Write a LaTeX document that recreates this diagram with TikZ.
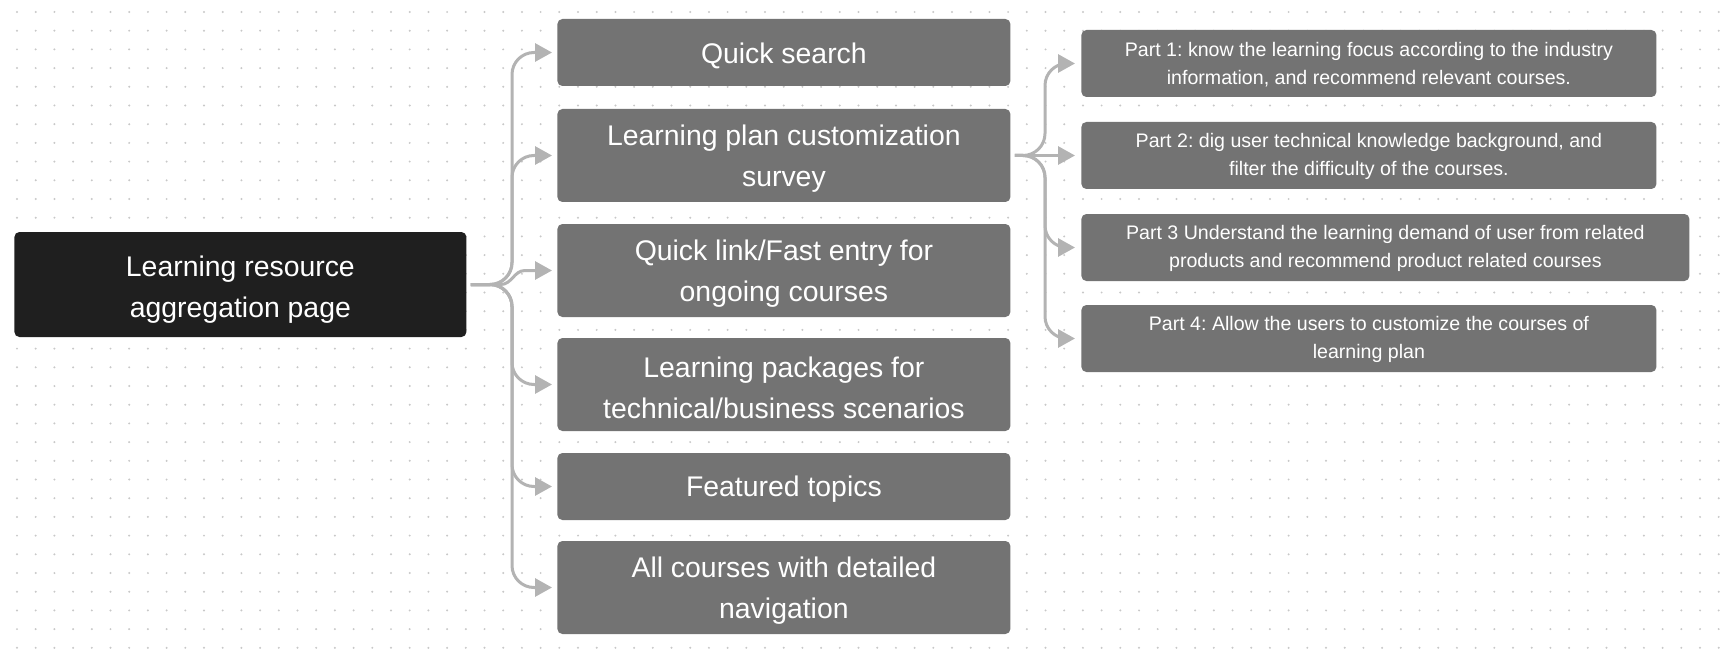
\documentclass[tikz,border=0pt]{standalone}
\usepackage{fontspec}
\setmainfont{Liberation Sans}
\usepackage{tikz}
\usetikzlibrary{arrows.meta}
\frenchspacing

\definecolor{rootgray}{HTML}{1F1F1F}
\definecolor{boxgray}{HTML}{737373}
\definecolor{linegray}{HTML}{B3B3B3}
\definecolor{dotgray}{HTML}{C8C8C8}

% invisible strut that pushes a node's text a little lower
\newcommand{\lifttext}[1]{\rule{0pt}{#1}}

\begin{document}
\begin{tikzpicture}[x=0.5pt,y=-0.5pt,
	box/.style={fill=boxgray, text=white, rounded corners=2.5pt, anchor=west, align=center, inner sep=0pt,
		font=\fontsize{14.2pt}{20.8pt}\selectfont, minimum width=226.5pt, minimum height=33.5pt},
	tall/.style={minimum height=46.5pt},
	part/.style={fill=boxgray, text=white, rounded corners=2.5pt, anchor=west, align=center, inner sep=0pt,
		font=\fontsize{9.8pt}{14.3pt}\selectfont, minimum width=287.5pt, minimum height=33.5pt},
	conn/.style={draw=linegray, line width=1.5pt, rounded corners=11pt,
		-{Triangle[length=8.5pt,width=9pt]}, shorten <=2pt, shorten >=2.5pt}
	]
\useasboundingbox (0,0) rectangle (1720,658);
\fill[white] (0,0) rectangle (1720,658);
% dotted canvas
\foreach \j in {0,...,34}{
	\foreach \i in {0,...,91}{\fill[dotgray] (17+18.7*\i,12+18.7*\j) circle (0.55pt);}}

\node[box, fill=rootgray, minimum width=226pt, minimum height=52.5pt] (root) at (14,284.5) {\lifttext{15.4pt}Learning resource\\aggregation page};

\node[box] (search) at (557,52.5) {\lifttext{13.2pt}Quick search};
\node[box, tall] (plan) at (557,155.5) {\lifttext{13.6pt}Learning plan customization\\survey};
\node[box, tall] (entry) at (557,270.5) {\lifttext{13.6pt}Quick link/Fast entry for\\ongoing courses};
\node[box, tall] (pack) at (557,384.5) {\lifttext{13.6pt}Learning packages for\\technical/business scenarios};
\node[box] (topics) at (557,486.5) {\lifttext{13.2pt}Featured topics};
\node[box, tall] (all) at (557,587.5) {\lifttext{13.6pt}All courses with detailed\\navigation};

\node[part] (p1) at (1081,63.5) {\lifttext{8.2pt}Part 1: know the learning focus according to the industry\\information, and recommend relevant courses.};
\node[part] (p2) at (1081,155.5) {\lifttext{8.2pt}Part 2: dig user technical knowledge background, and\\filter the difficulty of the courses.};
\node[part, minimum width=304pt] (p3) at (1081,247.5) {\lifttext{8.2pt}Part 3 Understand the learning demand of user from related\\products and recommend product related courses};
\node[part] (p4) at (1081,338.5) {\lifttext{8.2pt}Part 4: Allow the users to customize the courses of\\learning plan};

% root to sections
\draw[conn] (root.east) -| ([xshift=-22.5pt]search.west) -- (search.west);
\draw[conn] (root.east) -| ([xshift=-22.5pt]plan.west) -- (plan.west);
\draw[conn, sharp corners] (root.east) -- ++(34,0) to[out=0,in=180] ([xshift=-16pt]entry.west) -- (entry.west);
\draw[conn] (root.east) -| ([xshift=-22.5pt]pack.west) -- (pack.west);
\draw[conn] (root.east) -| ([xshift=-22.5pt]topics.west) -- (topics.west);
\draw[conn] (root.east) -| ([xshift=-22.5pt]all.west) -- (all.west);

% survey parts
\draw[conn, shorten >=3pt] (plan.east) -| ([xshift=-18pt]p1.west) -- (p1.west);
\draw[conn, shorten >=3pt] (plan.east) -- (p2.west);
\draw[conn, shorten >=3pt] (plan.east) -| ([xshift=-18pt]p3.west) -- (p3.west);
\draw[conn, shorten >=3pt] (plan.east) -| ([xshift=-18pt]p4.west) -- (p4.west);
\end{tikzpicture}
\end{document}
